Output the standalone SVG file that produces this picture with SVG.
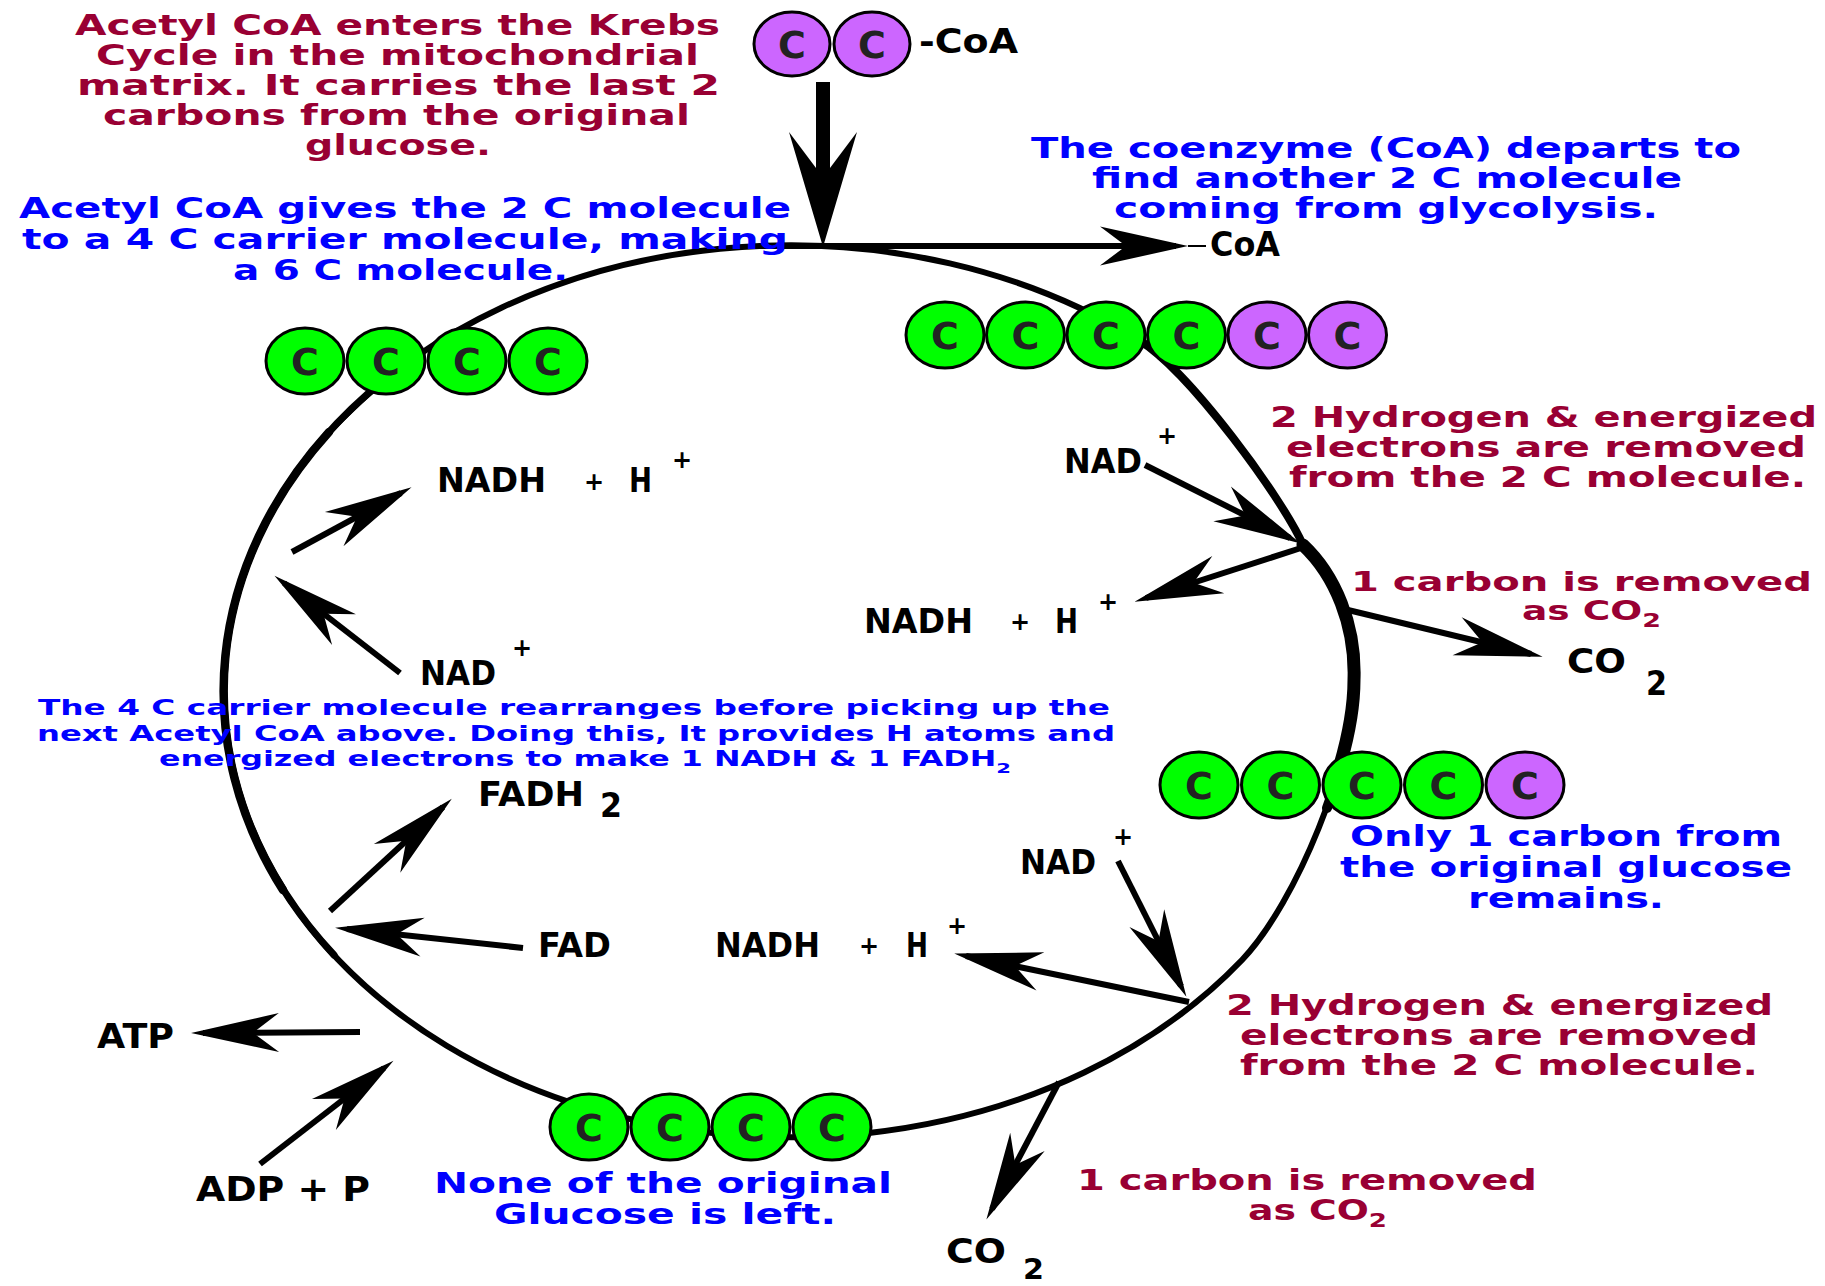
<svg xmlns="http://www.w3.org/2000/svg" width="1825" height="1286" viewBox="0 0 1825 1286">
<defs>
<style>
text{font-family:"DejaVu Sans","Liberation Sans",sans-serif;font-weight:bold}
.mr{fill:#990033;font-size:27.5px}
.mr2{fill:#990033;font-size:27.5px}
.bl{fill:#0000ff;font-size:27.5px}
.bl2{fill:#0000ff;font-size:28px}
.bls{fill:#0000ff;font-size:21px}
.k{fill:#000;font-size:33px}
.pl{fill:#000;font-size:24px;text-anchor:middle}
.c{fill:#222;font-size:38px;text-anchor:middle}
.g{fill:#00ff00;stroke:#000;stroke-width:3}
.p{fill:#cc66ff;stroke:#000;stroke-width:3}
.cyc{fill:none;stroke:#000;stroke-width:6;stroke-linecap:round}
.arr{fill:none;stroke:#000;stroke-width:6;marker-end:url(#ah)}
</style>
<marker id="ah" markerUnits="userSpaceOnUse" markerWidth="110" markerHeight="50" viewBox="-80 -25 110 50" refX="0" refY="0" orient="auto" overflow="visible">
<path d="M12,0 L-76,-19.5 L-50,0 L-76,19.5 Z" fill="#000"/>
</marker>
</defs>
<rect width="1825" height="1286" fill="#fff"/>

<g id="cycle">
<path class="cyc" d="M1139,340 C1190,372 1283,499 1303,545 C1335,575 1356,625 1354,680 C1354,760 1297,902 1242,960 A566 446 0 1 1 1139,340 Z"/>
<path class="cyc" style="stroke-width:13" d="M1303,545 C1335,575 1356,625 1354,680 C1354,704 1349,734 1340,765"/>
<path class="cyc" style="stroke-width:10" d="M1340,765 C1336,782 1332,795 1327,808"/>
<path class="cyc" style="stroke-width:8" d="M1139,340 C1190,372 1283,499 1303,545"/>
<path class="cyc" style="stroke-width:7" d="M334,955 A566 446 0 0 1 384,380"/>
<path class="cyc" style="stroke-width:8.5" d="M283,890 A566 446 0 0 1 329,432"/>
</g>

<g id="connectors">
<rect x="816" y="82" width="14" height="90" fill="#000"/>
<polygon points="823,247 857,132 830,168 816,168 789,132" fill="#000"/>
<line class="arr" x1="760" y1="246" x2="1176" y2="246"/>
<line x1="1188" y1="246" x2="1206" y2="246" stroke="#000" stroke-width="2"/>
<line class="arr" x1="1145" y1="465" x2="1290" y2="538"/>
<line class="arr" x1="1301" y1="548" x2="1146" y2="598"/>
<line class="arr" x1="1348" y1="610" x2="1531" y2="654"/>
<line class="arr" x1="1118" y1="861" x2="1181" y2="986"/>
<line class="arr" x1="1189" y1="1002" x2="966" y2="956"/>
<line class="arr" x1="1059" y1="1082" x2="992" y2="1209"/>
<line class="arr" x1="292" y1="552" x2="401" y2="493"/>
<line class="arr" x1="400" y1="673" x2="284" y2="583"/>
<line class="arr" x1="330" y1="911" x2="443" y2="807"/>
<line class="arr" x1="523" y1="948" x2="347" y2="929"/>
<line class="arr" x1="360" y1="1032" x2="203" y2="1033"/>
<line class="arr" x1="260" y1="1164" x2="384" y2="1068"/>
</g>

<g id="acetyl-coa">
<ellipse class="p" cx="792" cy="44" rx="38" ry="32"/>
<ellipse class="p" cx="872" cy="44" rx="38" ry="32"/>
<text class="c" x="792" y="58">C</text>
<text class="c" x="872" y="58">C</text>
<text class="k" x="919" y="53" textLength="99" lengthAdjust="spacingAndGlyphs">-CoA</text>
</g>

<g id="six-carbon">
<ellipse class="g" cx="945" cy="335" rx="39" ry="33"/>
<ellipse class="g" cx="1025.5" cy="335" rx="39" ry="33"/>
<ellipse class="g" cx="1106" cy="335" rx="39" ry="33"/>
<ellipse class="g" cx="1186.5" cy="335" rx="39" ry="33"/>
<ellipse class="p" cx="1267" cy="335" rx="39" ry="33"/>
<ellipse class="p" cx="1347.5" cy="335" rx="39" ry="33"/>
<text class="c" x="945" y="349">C</text>
<text class="c" x="1025.5" y="349">C</text>
<text class="c" x="1106" y="349">C</text>
<text class="c" x="1186.5" y="349">C</text>
<text class="c" x="1267" y="349">C</text>
<text class="c" x="1347.5" y="349">C</text>
</g>

<g id="four-carbon-left">
<ellipse class="g" cx="305" cy="361" rx="39" ry="33"/>
<ellipse class="g" cx="386" cy="361" rx="39" ry="33"/>
<ellipse class="g" cx="467" cy="361" rx="39" ry="33"/>
<ellipse class="g" cx="548" cy="361" rx="39" ry="33"/>
<text class="c" x="305" y="375">C</text>
<text class="c" x="386" y="375">C</text>
<text class="c" x="467" y="375">C</text>
<text class="c" x="548" y="375">C</text>
</g>

<g id="five-carbon">
<ellipse class="g" cx="1199" cy="785" rx="39" ry="33"/>
<ellipse class="g" cx="1280.5" cy="785" rx="39" ry="33"/>
<ellipse class="g" cx="1362" cy="785" rx="39" ry="33"/>
<ellipse class="g" cx="1443.5" cy="785" rx="39" ry="33"/>
<ellipse class="p" cx="1525" cy="785" rx="39" ry="33"/>
<text class="c" x="1199" y="799">C</text>
<text class="c" x="1280.5" y="799">C</text>
<text class="c" x="1362" y="799">C</text>
<text class="c" x="1443.5" y="799">C</text>
<text class="c" x="1525" y="799">C</text>
</g>

<g id="four-carbon-bottom">
<ellipse class="g" cx="589" cy="1127" rx="39" ry="33"/>
<ellipse class="g" cx="670" cy="1127" rx="39" ry="33"/>
<ellipse class="g" cx="751" cy="1127" rx="39" ry="33"/>
<ellipse class="g" cx="832" cy="1127" rx="39" ry="33"/>
<text class="c" x="589" y="1141">C</text>
<text class="c" x="670" y="1141">C</text>
<text class="c" x="751" y="1141">C</text>
<text class="c" x="832" y="1141">C</text>
</g>

<g id="note-enters">
<text class="mr" x="75" y="35" textLength="645" lengthAdjust="spacingAndGlyphs">Acetyl CoA enters the Krebs</text>
<text class="mr" x="96" y="65" textLength="603" lengthAdjust="spacingAndGlyphs">Cycle in the mitochondrial</text>
<text class="mr" x="77" y="95" textLength="643" lengthAdjust="spacingAndGlyphs">matrix. It carries the last 2</text>
<text class="mr" x="103" y="125" textLength="587" lengthAdjust="spacingAndGlyphs">carbons from the original</text>
<text class="mr" x="305" y="155" textLength="186" lengthAdjust="spacingAndGlyphs">glucose.</text>
</g>

<g id="note-gives">
<text class="bl" x="19" y="218" textLength="772" lengthAdjust="spacingAndGlyphs">Acetyl CoA gives the 2 C molecule</text>
<text class="bl" x="22" y="249" textLength="766" lengthAdjust="spacingAndGlyphs">to a 4 C carrier molecule, making</text>
<text class="bl" x="233" y="280" textLength="335" lengthAdjust="spacingAndGlyphs">a 6 C molecule.</text>
</g>

<g id="note-coenzyme">
<text class="bl" x="1031" y="158" textLength="710" lengthAdjust="spacingAndGlyphs">The coenzyme (CoA) departs to</text>
<text class="bl" x="1092" y="188" textLength="590" lengthAdjust="spacingAndGlyphs">find another 2 C molecule</text>
<text class="bl" x="1114" y="218" textLength="544" lengthAdjust="spacingAndGlyphs">coming from glycolysis.</text>
</g>

<g id="coa-out">
<text class="k" x="1210" y="256" textLength="70" lengthAdjust="spacingAndGlyphs">CoA</text>
</g>

<g id="note-hydrogen-1">
<text class="mr2" x="1270" y="427" textLength="547" lengthAdjust="spacingAndGlyphs">2 Hydrogen &amp; energized</text>
<text class="mr2" x="1286" y="457" textLength="520" lengthAdjust="spacingAndGlyphs">electrons are removed</text>
<text class="mr2" x="1289" y="487" textLength="517" lengthAdjust="spacingAndGlyphs">from the 2 C molecule.</text>
</g>

<g id="note-carbon-1">
<text class="mr2" style="font-size:26.5px" x="1351" y="591" textLength="461" lengthAdjust="spacingAndGlyphs">1 carbon is removed</text>
<text class="mr2" style="font-size:26.5px" x="1522" y="620" textLength="139" lengthAdjust="spacingAndGlyphs">as CO<tspan dy="7" font-size="19">2</tspan></text>
</g>

<g id="note-only">
<text class="bl2" x="1350" y="846" textLength="432" lengthAdjust="spacingAndGlyphs">Only 1 carbon from</text>
<text class="bl2" x="1340" y="877" textLength="452" lengthAdjust="spacingAndGlyphs">the original glucose</text>
<text class="bl2" x="1468" y="908" textLength="196" lengthAdjust="spacingAndGlyphs">remains.</text>
</g>

<g id="note-hydrogen-2">
<text class="mr2" x="1226" y="1015" textLength="547" lengthAdjust="spacingAndGlyphs">2 Hydrogen &amp; energized</text>
<text class="mr2" x="1240" y="1045" textLength="518" lengthAdjust="spacingAndGlyphs">electrons are removed</text>
<text class="mr2" x="1240" y="1075" textLength="518" lengthAdjust="spacingAndGlyphs">from the 2 C molecule.</text>
</g>

<g id="note-carbon-2">
<text class="mr2" x="1077" y="1190" textLength="460" lengthAdjust="spacingAndGlyphs">1 carbon is removed</text>
<text class="mr2" x="1248" y="1220" textLength="139" lengthAdjust="spacingAndGlyphs">as CO<tspan dy="7" font-size="19">2</tspan></text>
</g>

<g id="note-none">
<text class="bl2" x="434" y="1193" textLength="458" lengthAdjust="spacingAndGlyphs">None of the original</text>
<text class="bl2" x="494" y="1224" textLength="342" lengthAdjust="spacingAndGlyphs">Glucose is left.</text>
</g>

<g id="note-rearranges">
<text class="bls" x="38" y="715" textLength="1072" lengthAdjust="spacingAndGlyphs">The 4 C carrier molecule rearranges before picking up the</text>
<text class="bls" x="37" y="741" textLength="1078" lengthAdjust="spacingAndGlyphs">next Acetyl CoA above. Doing this, It provides H atoms and</text>
<text class="bls" x="159" y="766" textLength="852" lengthAdjust="spacingAndGlyphs">energized electrons to make 1 NADH &amp; 1 FADH<tspan dy="7" font-size="14">2</tspan></text>
</g>

<g id="nad-1">
<text class="k" x="1064" y="473" textLength="78" lengthAdjust="spacingAndGlyphs">NAD</text>
<text class="pl" x="1167" y="444">+</text>
</g>
<g id="nadh-1">
<text class="k" x="864" y="633" textLength="109" lengthAdjust="spacingAndGlyphs">NADH</text>
<text class="pl" x="1020" y="630">+</text>
<text class="k" x="1055" y="633" textLength="23" lengthAdjust="spacingAndGlyphs">H</text>
<text class="pl" x="1108" y="610">+</text>
</g>
<g id="co2-1">
<text class="k" x="1567" y="673" textLength="59" lengthAdjust="spacingAndGlyphs">CO</text>
<text class="k" x="1646" y="695" textLength="21" lengthAdjust="spacingAndGlyphs">2</text>
</g>
<g id="nad-2">
<text class="k" x="1020" y="874" textLength="76" lengthAdjust="spacingAndGlyphs">NAD</text>
<text class="pl" x="1123" y="845">+</text>
</g>
<g id="nadh-2">
<text class="k" x="715" y="957" textLength="105" lengthAdjust="spacingAndGlyphs">NADH</text>
<text class="pl" x="869" y="954">+</text>
<text class="k" x="906" y="957" textLength="22" lengthAdjust="spacingAndGlyphs">H</text>
<text class="pl" x="957" y="934">+</text>
</g>
<g id="co2-2">
<text class="k" x="946" y="1263" textLength="60" lengthAdjust="spacingAndGlyphs">CO</text>
<text class="k" style="font-size:29px" x="1023" y="1279" textLength="21" lengthAdjust="spacingAndGlyphs">2</text>
</g>
<g id="nadh-3">
<text class="k" x="437" y="492" textLength="109" lengthAdjust="spacingAndGlyphs">NADH</text>
<text class="pl" x="594" y="490">+</text>
<text class="k" x="629" y="492" textLength="23" lengthAdjust="spacingAndGlyphs">H</text>
<text class="pl" x="682" y="468">+</text>
</g>
<g id="nad-3">
<text class="k" x="420" y="685" textLength="76" lengthAdjust="spacingAndGlyphs">NAD</text>
<text class="pl" x="522" y="656">+</text>
</g>
<g id="fadh2">
<text class="k" x="478" y="806" textLength="106" lengthAdjust="spacingAndGlyphs">FADH</text>
<text class="k" x="600" y="817" textLength="22" lengthAdjust="spacingAndGlyphs">2</text>
</g>
<g id="fad">
<text class="k" x="538" y="957" textLength="73" lengthAdjust="spacingAndGlyphs">FAD</text>
</g>
<g id="atp">
<text class="k" x="97" y="1048" textLength="77" lengthAdjust="spacingAndGlyphs">ATP</text>
</g>
<g id="adp">
<text class="k" x="196" y="1201" textLength="174" lengthAdjust="spacingAndGlyphs">ADP + P</text>
</g>
</svg>
